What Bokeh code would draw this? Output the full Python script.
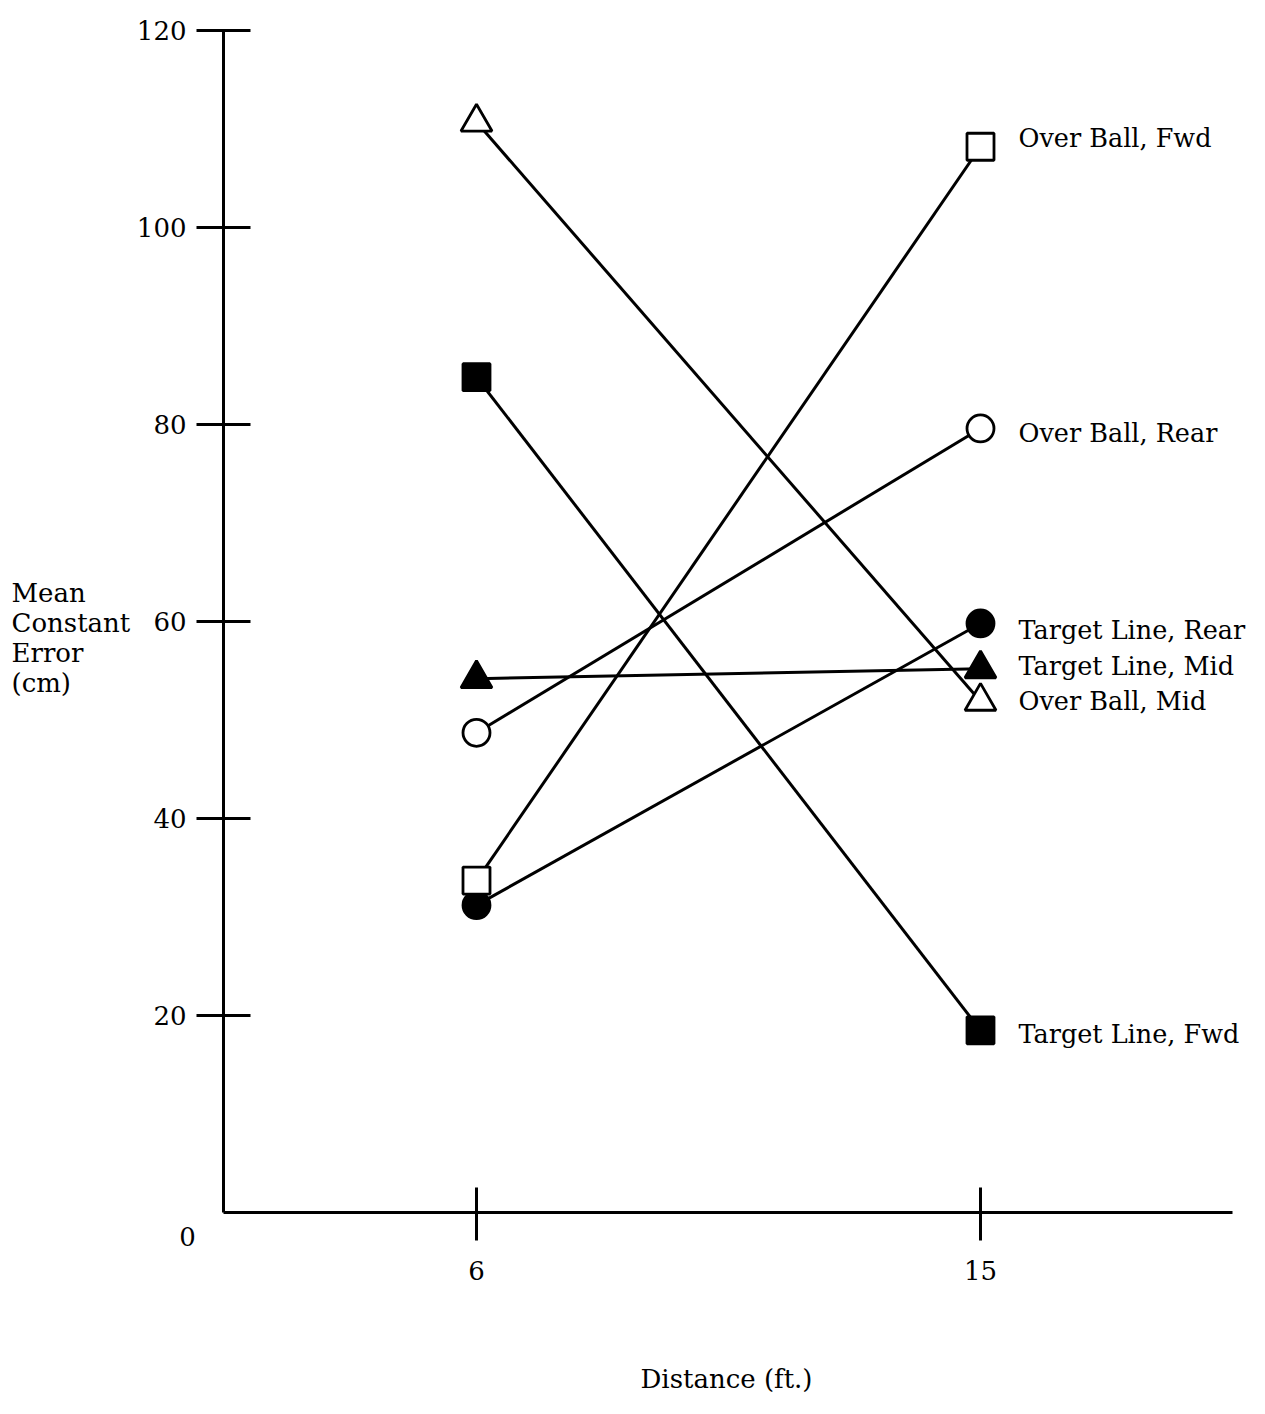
from bokeh.plotting import figure
from bokeh.models import Range1d, FixedTicker, Label
from bokeh.embed import file_html
from bokeh.resources import INLINE

# ---- data ----
distances = [6, 15]
x_tick_values = [6, 15]
y_tick_values = [20, 40, 60, 80, 100, 120]

series_names = ["Over Ball, Fwd", "Over Ball, Rear", "Target Line, Rear",
                "Target Line, Mid", "Over Ball, Mid", "Target Line, Fwd"]
over_ball_fwd = [33.7, 108.2]
over_ball_rear = [48.7, 79.6]
target_line_rear = [31.2, 59.8]
target_line_mid = [54.2, 55.2]
over_ball_mid = [110.7, 51.9]
target_line_fwd = [84.8, 18.5]

series_values = [over_ball_fwd, over_ball_rear, target_line_rear,
                 target_line_mid, over_ball_mid, target_line_fwd]
series_markers = ["square", "circle", "circle", "triangle", "triangle", "square"]
series_filled = [False, False, True, True, False, True]

# ---- layout / style ----
label_nudge_px = [9, -5, -7, 3, 0, -4]   # vertical nudges of the series labels
FONT = "DejaVu Serif"
FS = "26px"
W, H = 1249, 1398
PX_X = 56.0      # pixels per foot
PX_Y = 9.85      # pixels per cm
X6_PX = 476      # pixel column of x = 6
Y0_PX = 1212     # pixel row of y = 0

def sx(px):
    return 6 + (px - X6_PX) / PX_X

def sy(py):
    return (Y0_PX - py) / PX_Y

X_AXIS_START = sx(223)
X_AXIS_END = sx(1232)

p = figure(width=W, height=H,
           x_range=Range1d(sx(0), sx(W)), y_range=Range1d(sy(H), sy(0)),
           output_backend="svg", toolbar_location=None, min_border=0)
p.outline_line_color = None
p.grid.visible = False
p.background_fill_color = "white"
p.border_fill_color = "white"

# y axis
p.yaxis.fixed_location = X_AXIS_START
p.yaxis.bounds = (0, 120)
p.yaxis.ticker = FixedTicker(ticks=y_tick_values)
p.yaxis.major_tick_in = 27
p.yaxis.major_tick_out = 27
p.yaxis.minor_tick_in = 0
p.yaxis.minor_tick_out = 0
p.yaxis.axis_line_width = 3
p.yaxis.axis_line_color = "black"
p.yaxis.major_tick_line_width = 3
p.yaxis.major_tick_line_color = "black"
p.yaxis.major_label_text_font = FONT
p.yaxis.major_label_text_font_size = FS
p.yaxis.major_label_text_color = "black"
p.yaxis.major_label_standoff = 10

# x axis
p.xaxis.fixed_location = 0
p.xaxis.bounds = (X_AXIS_START, X_AXIS_END)
p.xaxis.ticker = FixedTicker(ticks=x_tick_values)
p.xaxis.major_tick_in = 25
p.xaxis.major_tick_out = 28
p.xaxis.minor_tick_in = 0
p.xaxis.minor_tick_out = 0
p.xaxis.axis_line_width = 3
p.xaxis.axis_line_color = "black"
p.xaxis.major_tick_line_width = 3
p.xaxis.major_tick_line_color = "black"
p.xaxis.major_label_text_font = FONT
p.xaxis.major_label_text_font_size = FS
p.xaxis.major_label_text_color = "black"
p.xaxis.major_label_standoff = 20

# series: lines first, then markers
for vals in series_values:
    p.line(distances, vals, line_color="black", line_width=3)

draw_order = [2, 0, 1, 3, 4, 5]
for i in draw_order:
    vals = series_values[i]
    m = series_markers[i]
    size = {"square": 27, "circle": 27, "triangle": 31}[m]
    p.scatter(distances, vals, marker=m, size=size,
              fill_color="black" if series_filled[i] else "white",
              line_color="black", line_width=2.8)

# series labels to the right of the 15 ft points
for name, vals, nudge in zip(series_names, series_values, label_nudge_px):
    p.add_layout(Label(x=distances[-1], y=vals[-1], x_offset=38, y_offset=nudge,
                       text=name, text_font=FONT, text_font_size="25.5px",
                       text_color="black", text_align="left",
                       text_baseline="middle"))

# "0" at the origin
p.add_layout(Label(x=sx(187), y=sy(1236), text="0", text_font=FONT,
                   text_font_size=FS, text_color="black",
                   text_align="center", text_baseline="middle"))

# y axis title, horizontal, four lines
y_title_lines = ["Mean", "Constant", "Error", "(cm)"]
for k, line in enumerate(y_title_lines):
    p.add_layout(Label(x=sx(11), y=sy(592 + 30 * k), text=line, text_font=FONT,
                       text_font_size=FS, text_color="black",
                       text_align="left", text_baseline="alphabetic"))

# x axis title
p.add_layout(Label(x=sx(726), y=sy(1378), text="Distance (ft.)", text_font=FONT,
                   text_font_size=FS, text_color="black",
                   text_align="center", text_baseline="middle"))

open("out.html", "w").write(file_html(p, INLINE))
